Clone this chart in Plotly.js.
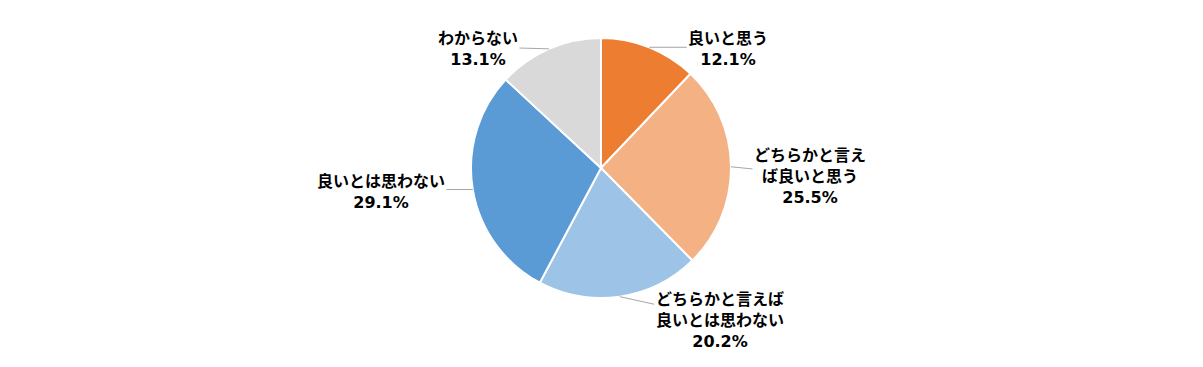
<!DOCTYPE html>
<html><head><meta charset="utf-8">
<script src="https://cdn.plot.ly/plotly-3.0.1.min.js"></script>
<style>html,body{margin:0;padding:0;background:#fff}</style>
</head><body><div id="chart" style="width:1203px;height:367px"></div>
<script>
const categories = ["良いと思う", "どちらかと言え<br>ば良いと思う", "どちらかと言えば<br>良いとは思わない", "良いとは思わない", "わからない"];
const values = [12.1, 25.5, 20.2, 29.1, 13.1];
const colors = ["#ED7D31", "#F4B183", "#9DC3E6", "#5B9BD5", "#D9D9D9"];
// label offsets (pixels) from slice edge
const offX = [79, 79, 100, -92, -71];
const offY = [0, 8, 22, 0, -2];

const W = 1203, H = 367, cx = 601, cy = 168, R = 130;
const total = values.reduce((a, b) => a + b, 0);
let cum = 0;
const annotations = values.map((v, i) => {
  const mid = (cum + v / 2) / total * 2 * Math.PI;
  cum += v;
  const px = cx + R * Math.sin(mid), py = cy - R * Math.cos(mid);
  return {
    x: px / W, y: 1 - py / H, xref: 'paper', yref: 'paper',
    text: categories[i] + '<br><span style="font-family:\'DejaVu Sans\'">' + v.toFixed(1) + '%</span>',
    showarrow: true, arrowhead: 0, arrowwidth: 1, arrowcolor: '#A6A6A6',
    ax: offX[i], ay: offY[i], standoff: 0, startstandoff: 0,
    font: {family: '"Noto Sans CJK JP", sans-serif', size: 16, color: '#000', weight: 700},
    align: 'center'
  };
});

const data = [{
  type: 'pie', values: values, labels: categories, sort: false, direction: 'clockwise', rotation: 0,
  marker: {colors: colors, line: {color: '#FFFFFF', width: 2}},
  textinfo: 'none', hoverinfo: 'none',
  domain: {x: [(cx - R) / W, (cx + R) / W], y: [(H - cy - R) / H, (H - cy + R) / H]}
}];
const layout = {
  width: W, height: H, margin: {l: 0, r: 0, t: 0, b: 0}, showlegend: false,
  paper_bgcolor: '#fff', annotations: annotations
};
Plotly.newPlot('chart', data, layout, {staticPlot: true});
</script></body></html>
